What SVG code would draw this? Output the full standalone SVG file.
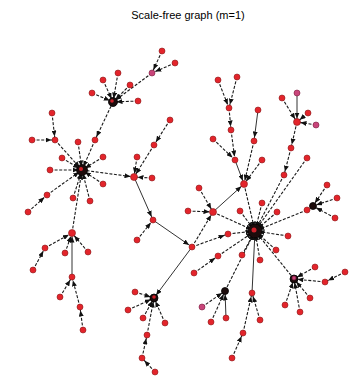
<svg xmlns="http://www.w3.org/2000/svg" width="351" height="380" viewBox="0 0 351 380">
<defs>
<marker id="arr" viewBox="0 0 6 5" markerWidth="6" markerHeight="5" refX="9.5" refY="2.5" orient="auto" markerUnits="userSpaceOnUse">
<path d="M0,0 L6,2.5 L0,5 z" fill="#111"/>
</marker>
<style>
.e{stroke:#1a1a1a;stroke-width:1.1;stroke-dasharray:3 1.6;fill:none;marker-end:url(#arr)}
.s{stroke:#333;stroke-width:1;fill:none;marker-end:url(#arr)}
.n{fill:#e3242b;stroke:#8a1a1a;stroke-width:0.6}
.p{fill:#c8457a;stroke:#7a1a3a;stroke-width:0.6}
.h{fill:#1c0c0c;stroke:#000;stroke-width:0.8}
.hc{fill:#d0202a}
.t{font-family:"Liberation Sans",Arial,sans-serif;font-size:11px;fill:#000}
</style>
</defs>
<rect width="351" height="380" fill="#fff"/>
<text class="t" x="188" y="19" text-anchor="middle">Scale-free graph (m=1)</text>
<g id="edges">
<line class="e" x1="162" y1="51" x2="152" y2="73"/>
<line class="e" x1="175" y1="63" x2="152" y2="73"/>
<line class="e" x1="152" y1="73" x2="113" y2="102"/>
<line class="e" x1="103" y1="80" x2="113" y2="102"/>
<line class="e" x1="118" y1="73" x2="113" y2="102"/>
<line class="e" x1="130" y1="85" x2="113" y2="102"/>
<line class="e" x1="92" y1="93" x2="113" y2="102"/>
<line class="e" x1="138" y1="101" x2="113" y2="102"/>
<line class="e" x1="113" y1="102" x2="95" y2="140"/>
<line class="e" x1="95" y1="140" x2="82" y2="170"/>
<line class="e" x1="52" y1="113" x2="55" y2="140"/>
<line class="e" x1="32" y1="140" x2="55" y2="140"/>
<line class="e" x1="55" y1="140" x2="82" y2="170"/>
<line class="e" x1="78" y1="142" x2="82" y2="170"/>
<line class="e" x1="62" y1="158" x2="82" y2="170"/>
<line class="e" x1="103" y1="157" x2="82" y2="170"/>
<line class="e" x1="50" y1="170" x2="82" y2="170"/>
<line class="e" x1="103" y1="184" x2="82" y2="170"/>
<line class="e" x1="90" y1="201" x2="82" y2="170"/>
<line class="e" x1="73" y1="198" x2="82" y2="170"/>
<line class="e" x1="47" y1="195" x2="82" y2="170"/>
<line class="e" x1="28" y1="212" x2="47" y2="195"/>
<line class="e" x1="82" y1="170" x2="134" y2="177"/>
<line class="e" x1="170" y1="120" x2="154" y2="145"/>
<line class="e" x1="154" y1="145" x2="134" y2="177"/>
<line class="e" x1="137" y1="157" x2="134" y2="177"/>
<line class="e" x1="152" y1="178" x2="134" y2="177"/>
<line class="s" x1="134" y1="177" x2="153" y2="220"/>
<line class="e" x1="137" y1="240" x2="153" y2="220"/>
<line class="s" x1="153" y1="220" x2="192" y2="247"/>
<line class="e" x1="72" y1="233" x2="82" y2="170"/>
<line class="e" x1="45" y1="248" x2="72" y2="233"/>
<line class="e" x1="33" y1="270" x2="45" y2="248"/>
<line class="e" x1="65" y1="253" x2="72" y2="233"/>
<line class="e" x1="88" y1="252" x2="72" y2="233"/>
<line class="s" x1="72" y1="277" x2="72" y2="233"/>
<line class="e" x1="60" y1="297" x2="72" y2="277"/>
<line class="e" x1="80" y1="307" x2="72" y2="277"/>
<line class="e" x1="83" y1="330" x2="80" y2="307"/>
<line class="s" x1="192" y1="247" x2="154" y2="298"/>
<line class="e" x1="135" y1="292" x2="154" y2="298"/>
<line class="e" x1="128" y1="310" x2="154" y2="298"/>
<line class="e" x1="143" y1="318" x2="154" y2="298"/>
<line class="e" x1="165" y1="323" x2="154" y2="298"/>
<line class="e" x1="147" y1="335" x2="154" y2="298"/>
<line class="e" x1="142" y1="358" x2="147" y2="335"/>
<line class="e" x1="155" y1="372" x2="142" y2="358"/>
<line class="e" x1="192" y1="247" x2="228" y2="234"/>
<line class="e" x1="228" y1="234" x2="255" y2="231"/>
<line class="e" x1="192" y1="247" x2="213" y2="212"/>
<line class="e" x1="188" y1="211" x2="213" y2="212"/>
<line class="e" x1="199" y1="188" x2="213" y2="212"/>
<line class="e" x1="213" y1="212" x2="255" y2="231"/>
<line class="s" x1="213" y1="212" x2="244" y2="184"/>
<line class="e" x1="244" y1="184" x2="255" y2="231"/>
<line class="e" x1="218" y1="80" x2="229" y2="108"/>
<line class="e" x1="237" y1="77" x2="229" y2="108"/>
<line class="e" x1="229" y1="108" x2="231" y2="130"/>
<line class="e" x1="231" y1="130" x2="235" y2="160"/>
<line class="s" x1="235" y1="160" x2="244" y2="184"/>
<line class="e" x1="213" y1="139" x2="235" y2="160"/>
<line class="s" x1="258" y1="110" x2="254" y2="141"/>
<line class="e" x1="254" y1="141" x2="244" y2="184"/>
<line class="e" x1="262" y1="160" x2="244" y2="184"/>
<line class="e" x1="240" y1="211" x2="255" y2="231"/>
<line class="e" x1="262" y1="203" x2="255" y2="231"/>
<line class="e" x1="277" y1="212" x2="255" y2="231"/>
<line class="e" x1="288" y1="236" x2="255" y2="231"/>
<line class="e" x1="276" y1="250" x2="255" y2="231"/>
<line class="e" x1="260" y1="260" x2="255" y2="231"/>
<line class="e" x1="242" y1="255" x2="255" y2="231"/>
<line class="e" x1="218" y1="256" x2="255" y2="231"/>
<line class="e" x1="194" y1="273" x2="218" y2="256"/>
<line class="e" x1="225" y1="291" x2="255" y2="231"/>
<line class="e" x1="202" y1="307" x2="225" y2="291"/>
<line class="e" x1="211" y1="322" x2="225" y2="291"/>
<line class="s" x1="226" y1="318" x2="225" y2="291"/>
<line class="s" x1="252" y1="293" x2="255" y2="231"/>
<line class="e" x1="260" y1="320" x2="252" y2="293"/>
<line class="e" x1="243" y1="333" x2="252" y2="293"/>
<line class="e" x1="232" y1="358" x2="243" y2="333"/>
<line class="e" x1="294" y1="279" x2="255" y2="231"/>
<line class="e" x1="315" y1="267" x2="294" y2="279"/>
<line class="e" x1="345" y1="272" x2="325" y2="282"/>
<line class="e" x1="325" y1="282" x2="294" y2="279"/>
<line class="e" x1="310" y1="298" x2="294" y2="279"/>
<line class="e" x1="300" y1="312" x2="294" y2="279"/>
<line class="e" x1="285" y1="305" x2="294" y2="279"/>
<line class="e" x1="313" y1="206" x2="307" y2="210"/>
<line class="e" x1="307" y1="210" x2="255" y2="231"/>
<line class="e" x1="327" y1="185" x2="313" y2="206"/>
<line class="e" x1="337" y1="198" x2="313" y2="206"/>
<line class="e" x1="335" y1="218" x2="313" y2="206"/>
<line class="e" x1="282" y1="98" x2="297" y2="122"/>
<line class="s" x1="297" y1="93" x2="297" y2="122"/>
<line class="e" x1="308" y1="113" x2="297" y2="122"/>
<line class="e" x1="316" y1="125" x2="297" y2="122"/>
<line class="e" x1="297" y1="122" x2="291" y2="148"/>
<line class="e" x1="291" y1="148" x2="284" y2="175"/>
<line class="e" x1="284" y1="175" x2="255" y2="231"/>
<line class="e" x1="307" y1="158" x2="255" y2="231"/>
</g>
<g id="node-A"><circle class="h" cx="82" cy="170" r="5.5"/><circle class="hc" cx="81" cy="169" r="2"/></g>
<g id="node-B"><circle class="h" cx="255" cy="231" r="7"/><circle class="hc" cx="254" cy="230" r="2.5"/></g>
<g id="node-C"><circle class="h" cx="113" cy="102" r="4.5"/><circle class="hc" cx="112" cy="101" r="1.8"/></g>
<g id="node-D"><circle class="n" cx="134" cy="177" r="3.5"/></g>
<g id="node-E"><circle class="n" cx="72" cy="233" r="3.5"/></g>
<g id="node-F"><circle class="h" cx="154" cy="298" r="4"/><circle class="hc" cx="154" cy="297" r="1.8"/></g>
<g id="node-G"><circle class="h" cx="294" cy="279" r="4"/><circle class="p" cx="294" cy="278" r="2"/></g>
<g id="node-H"><circle class="h" cx="313" cy="206" r="3.5"/></g>
<g id="node-I"><circle class="n" cx="297" cy="122" r="3.5"/></g>
<g id="node-J"><circle class="n" cx="192" cy="247" r="3"/></g>
<g id="node-K"><circle class="n" cx="153" cy="220" r="3"/></g>
<g id="node-L"><circle class="n" cx="213" cy="212" r="3.5"/></g>
<g id="node-M"><circle class="n" cx="244" cy="184" r="3.5"/></g>
<g id="node-N"><circle class="h" cx="225" cy="291" r="3.5"/></g>
<g id="node-P"><circle class="n" cx="229" cy="108" r="3"/></g>
<g id="node-Q"><circle class="n" cx="235" cy="160" r="3"/></g>
<g id="node-R"><circle class="n" cx="284" cy="175" r="3"/></g>
<g id="node-S"><circle class="n" cx="252" cy="293" r="3"/></g>
<g id="node-c1"><circle class="n" cx="162" cy="51" r="3"/></g>
<g id="node-c2"><circle class="n" cx="175" cy="63" r="3"/></g>
<g id="node-c3"><circle class="p" cx="152" cy="73" r="3"/></g>
<g id="node-c4"><circle class="n" cx="103" cy="80" r="3"/></g>
<g id="node-c5"><circle class="n" cx="118" cy="73" r="3"/></g>
<g id="node-c6"><circle class="n" cx="130" cy="85" r="3"/></g>
<g id="node-c7"><circle class="n" cx="92" cy="93" r="3"/></g>
<g id="node-c8"><circle class="n" cx="138" cy="101" r="3"/></g>
<g id="node-a1"><circle class="n" cx="52" cy="113" r="3"/></g>
<g id="node-a3"><circle class="n" cx="55" cy="140" r="3"/></g>
<g id="node-a4"><circle class="n" cx="32" cy="140" r="3"/></g>
<g id="node-a5"><circle class="n" cx="78" cy="142" r="3"/></g>
<g id="node-a6"><circle class="n" cx="95" cy="140" r="3"/></g>
<g id="node-a7"><circle class="n" cx="62" cy="158" r="3"/></g>
<g id="node-a8"><circle class="n" cx="103" cy="157" r="3"/></g>
<g id="node-a9"><circle class="n" cx="50" cy="170" r="3"/></g>
<g id="node-a10"><circle class="n" cx="103" cy="184" r="3"/></g>
<g id="node-a11"><circle class="n" cx="90" cy="201" r="3"/></g>
<g id="node-a12"><circle class="n" cx="73" cy="198" r="3"/></g>
<g id="node-a13"><circle class="n" cx="47" cy="195" r="3"/></g>
<g id="node-a14"><circle class="n" cx="28" cy="212" r="3"/></g>
<g id="node-d1"><circle class="n" cx="170" cy="120" r="3"/></g>
<g id="node-d2"><circle class="n" cx="154" cy="145" r="3"/></g>
<g id="node-d3"><circle class="n" cx="137" cy="157" r="3"/></g>
<g id="node-d4"><circle class="n" cx="152" cy="178" r="3"/></g>
<g id="node-k1"><circle class="n" cx="137" cy="240" r="3"/></g>
<g id="node-e1"><circle class="n" cx="45" cy="248" r="3"/></g>
<g id="node-e2"><circle class="n" cx="33" cy="270" r="3"/></g>
<g id="node-e3"><circle class="n" cx="65" cy="253" r="3"/></g>
<g id="node-e4"><circle class="n" cx="88" cy="252" r="3"/></g>
<g id="node-e5"><circle class="n" cx="72" cy="277" r="3"/></g>
<g id="node-e6"><circle class="n" cx="60" cy="297" r="3"/></g>
<g id="node-e7"><circle class="n" cx="80" cy="307" r="3"/></g>
<g id="node-e8"><circle class="n" cx="83" cy="330" r="3"/></g>
<g id="node-f1"><circle class="n" cx="135" cy="292" r="3"/></g>
<g id="node-f2"><circle class="n" cx="128" cy="310" r="3"/></g>
<g id="node-f3"><circle class="n" cx="143" cy="318" r="3"/></g>
<g id="node-f4"><circle class="n" cx="165" cy="323" r="3"/></g>
<g id="node-f5"><circle class="n" cx="147" cy="335" r="3"/></g>
<g id="node-f6"><circle class="n" cx="142" cy="358" r="3"/></g>
<g id="node-f7"><circle class="n" cx="155" cy="372" r="3"/></g>
<g id="node-x1"><circle class="n" cx="228" cy="234" r="3"/></g>
<g id="node-l1"><circle class="n" cx="188" cy="211" r="3"/></g>
<g id="node-l2"><circle class="n" cx="199" cy="188" r="3"/></g>
<g id="node-p1"><circle class="n" cx="218" cy="80" r="3"/></g>
<g id="node-p2"><circle class="n" cx="237" cy="77" r="3"/></g>
<g id="node-p3"><circle class="n" cx="231" cy="130" r="3"/></g>
<g id="node-q1"><circle class="n" cx="213" cy="139" r="3"/></g>
<g id="node-m1"><circle class="n" cx="258" cy="110" r="3"/></g>
<g id="node-m2"><circle class="n" cx="254" cy="141" r="3"/></g>
<g id="node-m3"><circle class="n" cx="262" cy="160" r="3"/></g>
<g id="node-b1"><circle class="n" cx="240" cy="211" r="3"/></g>
<g id="node-b2"><circle class="n" cx="262" cy="203" r="3"/></g>
<g id="node-b3"><circle class="n" cx="277" cy="212" r="3"/></g>
<g id="node-b4"><circle class="n" cx="288" cy="236" r="3"/></g>
<g id="node-b5"><circle class="n" cx="276" cy="250" r="3"/></g>
<g id="node-b6"><circle class="n" cx="260" cy="260" r="3"/></g>
<g id="node-b7"><circle class="n" cx="242" cy="255" r="3"/></g>
<g id="node-b8"><circle class="n" cx="218" cy="256" r="3"/></g>
<g id="node-b9"><circle class="n" cx="194" cy="273" r="3"/></g>
<g id="node-n1"><circle class="p" cx="202" cy="307" r="3"/></g>
<g id="node-n2"><circle class="n" cx="211" cy="322" r="3"/></g>
<g id="node-n3"><circle class="n" cx="226" cy="318" r="3"/></g>
<g id="node-s1"><circle class="n" cx="260" cy="320" r="3"/></g>
<g id="node-s2"><circle class="n" cx="243" cy="333" r="3"/></g>
<g id="node-s3"><circle class="n" cx="232" cy="358" r="3"/></g>
<g id="node-g1"><circle class="n" cx="315" cy="267" r="3"/></g>
<g id="node-g2"><circle class="n" cx="345" cy="272" r="3"/></g>
<g id="node-g3"><circle class="n" cx="325" cy="282" r="3"/></g>
<g id="node-g4"><circle class="n" cx="310" cy="298" r="3"/></g>
<g id="node-g5"><circle class="n" cx="300" cy="312" r="3"/></g>
<g id="node-g6"><circle class="n" cx="285" cy="305" r="3"/></g>
<g id="node-h1"><circle class="n" cx="327" cy="185" r="3"/></g>
<g id="node-h2"><circle class="n" cx="337" cy="198" r="3"/></g>
<g id="node-h3"><circle class="n" cx="335" cy="218" r="3"/></g>
<g id="node-h4"><circle class="n" cx="307" cy="210" r="3"/></g>
<g id="node-i1"><circle class="n" cx="282" cy="98" r="3"/></g>
<g id="node-i2"><circle class="p" cx="297" cy="93" r="3"/></g>
<g id="node-i3"><circle class="n" cx="308" cy="113" r="3"/></g>
<g id="node-i4"><circle class="p" cx="316" cy="125" r="3"/></g>
<g id="node-r1"><circle class="n" cx="291" cy="148" r="3"/></g>
<g id="node-t1"><circle class="n" cx="307" cy="158" r="3"/></g>
</svg>
